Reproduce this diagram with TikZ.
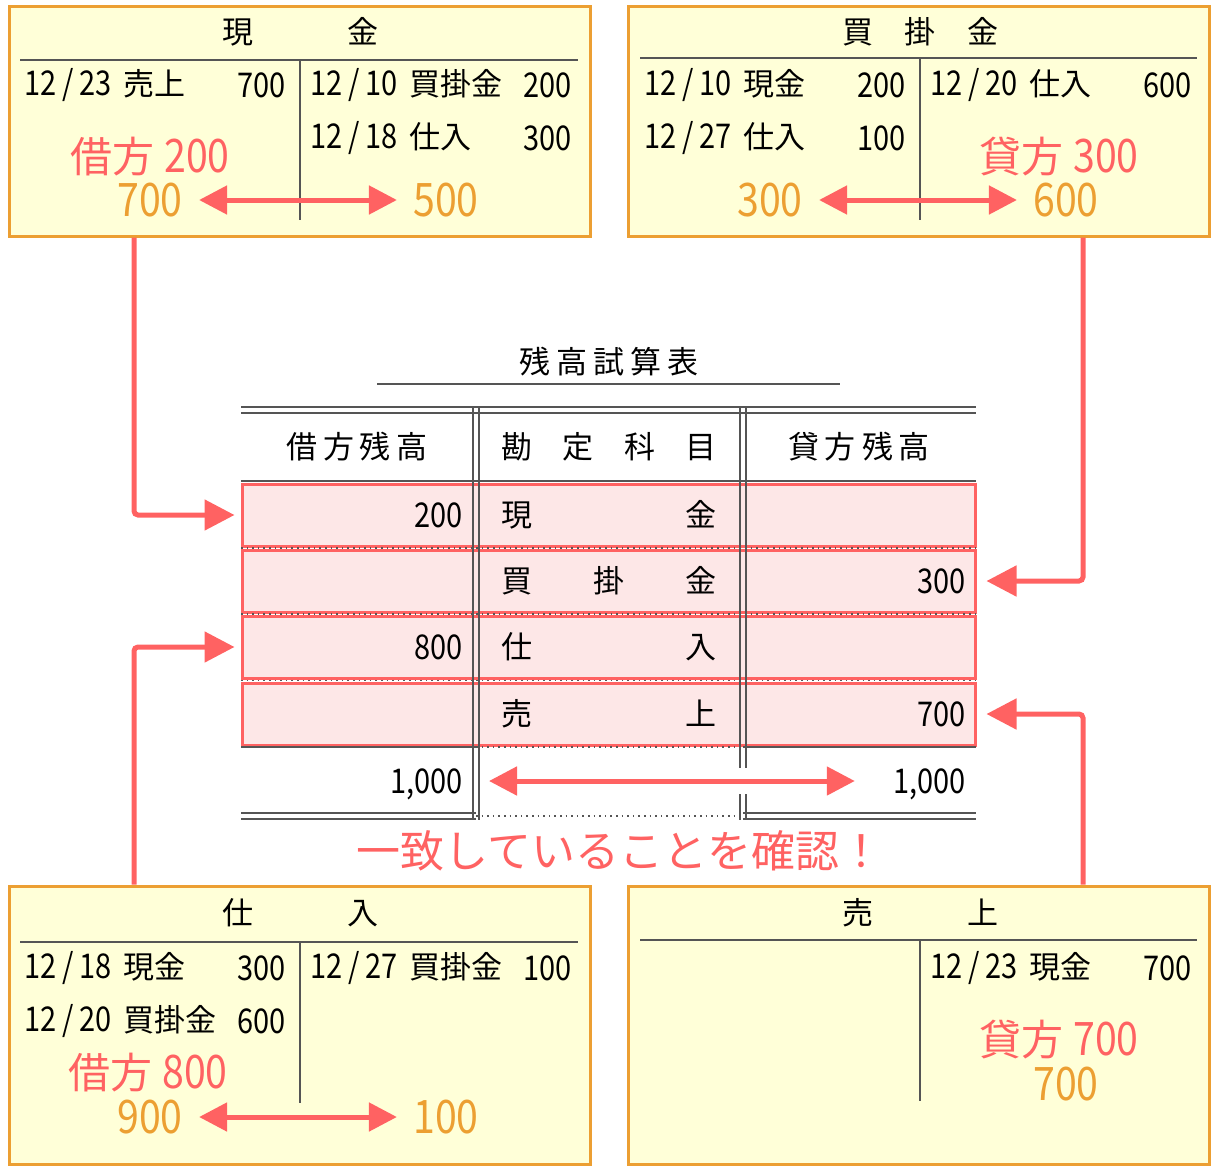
\documentclass[tikz,border=0pt]{standalone}
\usepackage{fontspec}
\setmainfont{Noto Sans CJK JP}
\newfontfamily\numfont{Noto Sans CJK JP}[Scale=1.1,FakeStretch=0.85]
\usetikzlibrary{arrows.meta,calc}
\definecolor{boxorange}{HTML}{EC9F32}
\definecolor{boxfill}{HTML}{FFFFD8}
\definecolor{hlred}{HTML}{FF6262}
\definecolor{hlfill}{HTML}{FDE7E7}
\definecolor{rulegray}{HTML}{555555}
\tikzset{
  tacc/.style={draw=boxorange, line width=1.5pt, fill=boxfill, minimum width=290.5pt,
               inner sep=0pt},
  rowbox/.style={draw=hlred, line width=1.5pt, fill=hlfill, minimum width=366.5pt,
                 minimum height=31pt, inner sep=0pt},
  tline/.style={draw=rulegray, line width=0.8pt},
  ttl/.style={font=\fontsize{15.5}{18}\selectfont, inner sep=0pt},
  ent/.style={font=\fontsize{15.5}{18}\selectfont, inner sep=0pt},
  entnum/.style={font=\fontsize{15.5}{18}\selectfont\numfont, inner sep=0pt},
  bigred/.style={text=hlred, font=\fontsize{21}{25}\selectfont, inner sep=0pt},
  bignum/.style={text=boxorange, font=\fontsize{21}{25}\selectfont\numfont, inner sep=0pt},
  flow/.style={draw=hlred, line width=2.5pt, rounded corners=2pt,
               -{Triangle[length=15pt,width=15pt]}},
  bothway/.style={draw=hlred, line width=2.5pt, shorten <=8pt, shorten >=8pt,
                  {Triangle[length=14pt,width=14pt]}-{Triangle[length=14pt,width=14pt]}},
}
\newcommand{\tdate}[2]{{\numfont #1\,/\,#2}\hspace{6pt}}

\begin{document}
\begin{tikzpicture}[x=0.5pt, y=-0.5pt]
    \useasboundingbox (0,0) rectangle (1214,1172);
    % T-accounts
    \node[tacc, minimum height=114.5pt] (genkin)  at (299.5,121.5) {};
    \node[tacc, minimum height=114.5pt] (kaikake) at (918.5,121.5) {};
    \node[tacc, minimum height=139pt]   (shiire)  at (299.5,1025)  {};
    \node[tacc, minimum height=139pt]   (uriage)  at (918.5,1025)  {};
    \draw[tline] (20,60) -- (578,60) (300,60) -- (300,220);
    \draw[tline] (640,58) -- (1197,58) (920,58) -- (920,220);
    \draw[tline] (20,942) -- (578,942) (300,942) -- (300,1103);
    \draw[tline] (640,940) -- (1197,940) (920,940) -- (920,1101);

    \node[ttl] (genkinT)  at (300,32)  {\makebox[78pt][s]{現\hfill 金}};
    \node[ttl] (kaikakeT) at (920,32)  {\makebox[78pt][s]{買\hfill 掛\hfill 金}};
    \node[ttl] (shiireT)  at (300,913) {\makebox[78pt][s]{仕\hfill 入}};
    \node[ttl] (uriageT)  at (920,913) {\makebox[78pt][s]{売\hfill 上}};

    % 現金
    \node[ent, anchor=west]    (g1)  at (24,85)   {\tdate{12}{23}売上};
    \node[entnum, anchor=east] (g1v) at (286,85)  {700};
    \node[ent, anchor=west]    (g2)  at (310,85)  {\tdate{12}{10}買掛金};
    \node[entnum, anchor=east] (g2v) at (572,85)  {200};
    \node[ent, anchor=west]    (g3)  at (310,138) {\tdate{12}{18}仕入};
    \node[entnum, anchor=east] (g3v) at (572,138) {300};
    \node[bigred] (gbal) at (150,157) {借方\hspace{5pt}{\numfont 200}};
    \node[bignum] (gdr)  at (150,200) {700};
    \node[bignum] (gcr)  at (446,200) {500};
    \draw[bothway] (gdr) -- (gcr);

    % 買掛金
    \node[ent, anchor=west]    (k1)  at (644,85)   {\tdate{12}{10}現金};
    \node[entnum, anchor=east] (k1v) at (906,85)   {200};
    \node[ent, anchor=west]    (k2)  at (644,138)  {\tdate{12}{27}仕入};
    \node[entnum, anchor=east] (k2v) at (906,138)  {100};
    \node[ent, anchor=west]    (k3)  at (930,85)   {\tdate{12}{20}仕入};
    \node[entnum, anchor=east] (k3v) at (1192,85)  {600};
    \node[bigred] (kbal) at (1059,157) {貸方\hspace{5pt}{\numfont 300}};
    \node[bignum] (kdr)  at (770,200)  {300};
    \node[bignum] (kcr)  at (1066,200) {600};
    \draw[bothway] (kdr) -- (kcr);

    % 仕入
    \node[ent, anchor=west]    (s1)  at (24,968)   {\tdate{12}{18}現金};
    \node[entnum, anchor=east] (s1v) at (286,968)  {300};
    \node[ent, anchor=west]    (s2)  at (24,1021)  {\tdate{12}{20}買掛金};
    \node[entnum, anchor=east] (s2v) at (286,1021) {600};
    \node[ent, anchor=west]    (s3)  at (310,968)  {\tdate{12}{27}買掛金};
    \node[entnum, anchor=east] (s3v) at (572,968)  {100};
    \node[bigred] (sbal) at (148,1073) {借方\hspace{5pt}{\numfont 800}};
    \node[bignum] (sdr)  at (150,1117) {900};
    \node[bignum] (scr)  at (446,1117) {100};
    \draw[bothway] (sdr) -- (scr);

    % 売上
    \node[ent, anchor=west]    (u1)  at (930,968)  {\tdate{12}{23}現金};
    \node[entnum, anchor=east] (u1v) at (1192,968) {700};
    \node[bigred] (ubal) at (1059,1040) {貸方\hspace{5pt}{\numfont 700}};
    \node[bignum] (ucr)  at (1066,1084) {700};

    % 残高試算表
    \node[ttl] (tbtitle) at (609,362) {\makebox[90pt][s]{残\hfill 高\hfill 試\hfill 算\hfill 表}};
    \draw[tline] (377,384) -- (840,384);
    \node[rowbox] (r1) at (608.5,515) {};
    \node[rowbox] (r2) at (608.5,581) {};
    \node[rowbox] (r3) at (608.5,647) {};
    \node[rowbox] (r4) at (608.5,714) {};
    \draw[tline] (241,407) -- (976,407) (241,413) -- (976,413);
    \draw[tline] (241,481) -- (976,481);
    \draw[tline, dotted] (241,548) -- (976,548) (241,614) -- (976,614) (241,680.5) -- (976,680.5);
    \draw[tline] (241,747) -- (476,747) (743,747) -- (976,747);
    \draw[tline, dotted] (476,747) -- (743,747) (476,816) -- (743,816);
    \draw[tline] (241,813) -- (476,813) (241,819) -- (476,819)
                 (743,813) -- (976,813) (743,819) -- (976,819);
    \draw[tline] (473,407) -- (473,820) (479,407) -- (479,820)
                 (740,407) -- (740,820) (746,407) -- (746,820);

    \node[ttl] (hdr)  at (357,447) {\makebox[70.5pt][s]{借\hfill 方\hfill 残\hfill 高}};
    \node[ttl, anchor=west] (hnm) at (501,447) {\makebox[107.5pt][s]{勘\hfill 定\hfill 科\hfill 目}};
    \node[ttl] (hcr)  at (859,447) {\makebox[71pt][s]{貸\hfill 方\hfill 残\hfill 高}};

    \node[entnum, anchor=east] (r1d) at (463,515) {200};
    \node[ent, anchor=west]    (r1n) at (501,515) {\makebox[107.5pt][s]{現\hfill 金}};
    \node[ent, anchor=west]    (r2n) at (501,581) {\makebox[107.5pt][s]{買\hfill 掛\hfill 金}};
    \node[entnum, anchor=east] (r2c) at (966,581) {300};
    \node[entnum, anchor=east] (r3d) at (463,647) {800};
    \node[ent, anchor=west]    (r3n) at (501,647) {\makebox[107.5pt][s]{仕\hfill 入}};
    \node[ent, anchor=west]    (r4n) at (501,714) {\makebox[107.5pt][s]{売\hfill 上}};
    \node[entnum, anchor=east] (r4c) at (966,714) {700};

    \node[entnum, anchor=east] (totd) at (463,784) {1,000};
    \node[entnum, anchor=east] (totc) at (966,784) {1,000};
    \fill[white] (736,768) rectangle (750,794);
    \draw[bothway, shorten <=13pt, shorten >=19pt] (totd.east |- 0,781) -- (totc.west |- 0,781);

    \node[text=hlred, font=\fontsize{22}{26}\selectfont, inner sep=0pt] (check) at (620,851)
      {一致していることを確認！};

    % connectors to the trial balance
    \draw[flow] ($(genkin.south)+(-165.5,0)$) |- ($(r1.west)+(-6,0)$);
    \draw[flow] ($(kaikake.south)+(164.5,0)$) |- ($(r2.east)+(10,0)$);
    \draw[flow] ($(shiire.north)+(-165.5,0)$) |- ($(r3.west)+(-6,0)$);
    \draw[flow] ($(uriage.north)+(164.5,0)$) |- ($(r4.east)+(10,0)$);
\end{tikzpicture}
\end{document}
